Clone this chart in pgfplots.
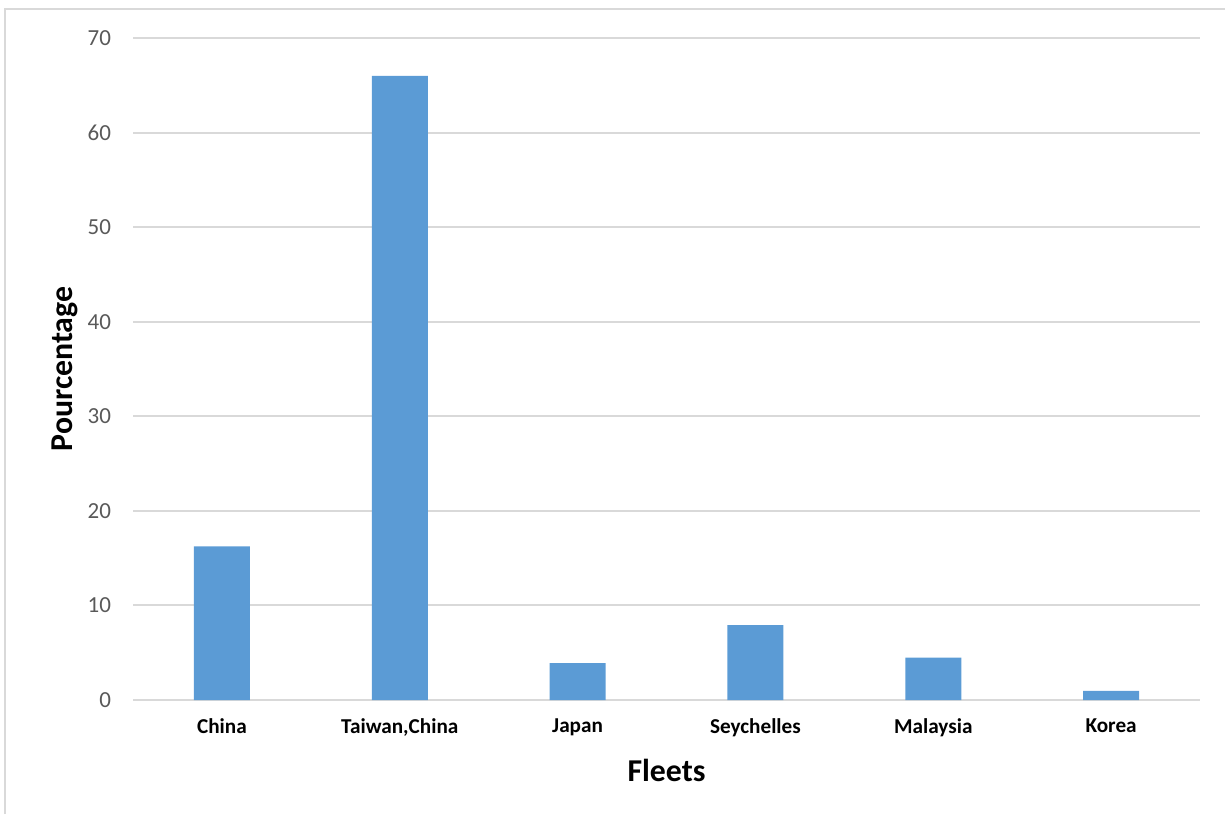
\documentclass[border=0pt]{standalone}
\usepackage{fontspec}
\setmainfont{Carlito}
\usepackage{pgfplots}
\pgfplotsset{compat=1.18}
\definecolor{barblue}{HTML}{5B9BD5}
\definecolor{gridgray}{HTML}{D9D9D9}
\definecolor{ticktext}{HTML}{595959}
\begin{document}
\begin{tikzpicture}
% picture box, 1 px of the reference = 0.5pt
\path[use as bounding box] (0,0) rectangle (612.5pt,407pt);
\draw[gridgray, line width=1pt] (2.5pt,0) -- (2.5pt,402.5pt) -- (612.5pt,402.5pt);
\begin{axis}[
    at={(66.5pt,57pt)}, anchor=south west,
    scale only axis,
    width=533.5pt, height=331pt,
    ybar, bar width=28pt,
    xmin=-0.5, xmax=5.5,
    ymin=0, ymax=70,
    ytick={0,10,...,70},
    xtick=data,
    xticklabels={China,{Taiwan,China},Japan,Seychelles,Malaysia,Korea},
    axis line style={draw=none},
    major tick length=0pt,
    ymajorgrids,
    grid style={gridgray, line width=1pt},
    /pgf/number format/assume math mode=true,
    yticklabel style={font=\fontsize{11.5pt}{13pt}\selectfont, text=ticktext, xshift=-7.5pt},
    xticklabel style={font=\fontsize{10.6pt}{12pt}\selectfont\bfseries, text=black, yshift=-6pt},
    xlabel={Fleets},
    ylabel={Pourcentage},
    xlabel style={at={(axis description cs:0.5,0)}, anchor=base, yshift=-40.5pt,
        font=\fontsize{15.9pt}{18pt}\selectfont\bfseries},
    ylabel style={at={(axis description cs:0,0.5)}, anchor=base, yshift=30.5pt,
        font=\fontsize{15.9pt}{18pt}\selectfont\bfseries},
]
\draw[gridgray, line width=1pt] (axis cs:-0.5,0) -- (axis cs:5.5,0);
\addplot[fill=barblue, draw=none] coordinates {
    (0,16.25) (1,66.0) (2,3.9) (3,7.93) (4,4.47) (5,0.97)
};
\end{axis}
\end{tikzpicture}
\end{document}
